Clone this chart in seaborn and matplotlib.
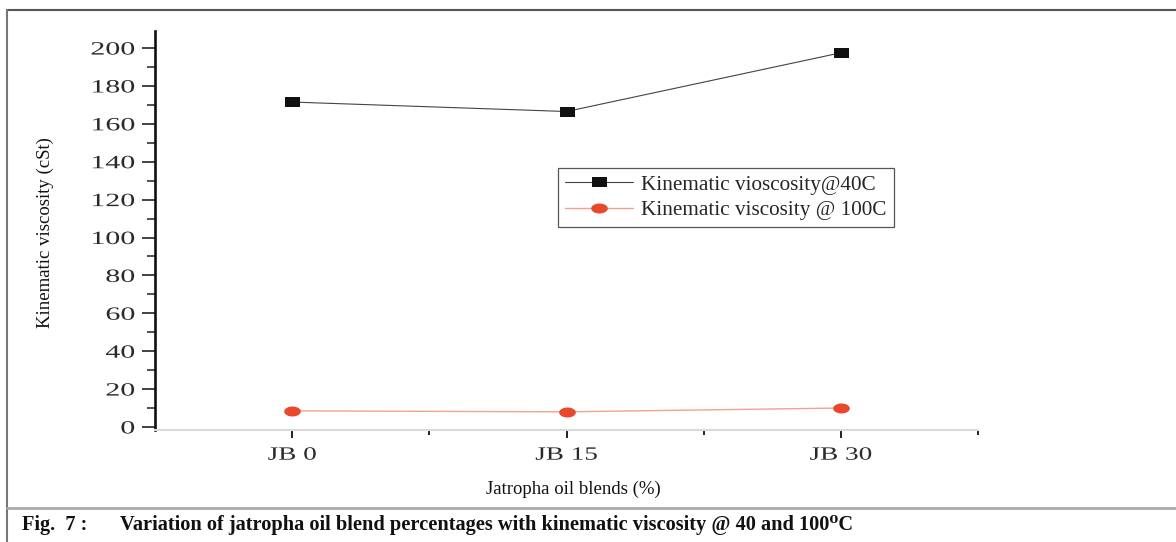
import numpy as np
import pandas as pd
import matplotlib
matplotlib.use("Agg")
import matplotlib.pyplot as plt
import seaborn as sns
from matplotlib.transforms import Affine2D
from matplotlib.patheffects import AbstractPathEffect
from matplotlib.ticker import MultipleLocator, FixedLocator, NullFormatter
from matplotlib.lines import Line2D

# ---------------- data ----------------
blends = ["JB 0", "JB 15", "JB 30"]
visc_40 = [171.5, 166.5, 197.5]
visc_100 = [8.5, 8.0, 10.0]
y_ticks = [0, 20, 40, 60, 80, 100, 120, 140, 160, 180, 200]
series_labels = ["Kinematic vioscosity@40C", "Kinematic viscosity @ 100C"]
x_label = "Jatropha oil blends (%)"
y_label = "Kinematic viscosity (cSt)"
caption_head = "Fig.  7 :"
caption_text = "Variation of jatropha oil blend percentages with kinematic viscosity @ 40 and 100\u2070C"

sns.set_theme(style="white")
plt.rcParams['font.family'] = ['Liberation Serif', 'DejaVu Serif']


class HStretch(AbstractPathEffect):
    """Stretch a text path horizontally about an anchor."""
    def __init__(self, sx=1.45, anchor='center'):
        super().__init__()
        self.sx = sx
        self.anchor = anchor

    def draw_path(self, renderer, gc, tpath, affine, rgbFace=None):
        ext = tpath.get_extents()
        if self.anchor == 'right':
            a = ext.x1
        elif self.anchor == 'left':
            a = ext.x0
        else:
            a = (ext.x0 + ext.x1) / 2
        t = Affine2D().translate(-a, 0).scale(self.sx, 1).translate(a, 0)
        renderer.draw_path(gc, tpath, t + affine, rgbFace)


W, H = 1176, 542
fig = plt.figure(figsize=(W / 100, H / 100), dpi=100)
fig.patch.set_facecolor("white")
ax = fig.add_axes([155 / W, 1 - 430 / H, (978 - 155) / W, (430 - 31) / H])
ax.set_facecolor("white")

rect_marker = [(-1.5, -1), (1.5, -1), (1.5, 1), (-1.5, 1), (-1.5, -1)]
th = np.linspace(0, 2 * np.pi, 40)
ell_marker = list(zip(np.cos(th), 0.6 * np.sin(th)))

df40 = pd.DataFrame({"blend": blends, "viscosity": visc_40})
df100 = pd.DataFrame({"blend": blends, "viscosity": visc_100})

sns.lineplot(data=df40, x="blend", y="viscosity", ax=ax, sort=False,
             color="#444444", linewidth=0.8, marker=rect_marker, markersize=10.8,
             markerfacecolor="#111111", markeredgecolor="#111111",
             markeredgewidth=0, label=series_labels[0])
sns.lineplot(data=df100, x="blend", y="viscosity", ax=ax, sort=False,
             color="#f2a090", linewidth=1.0, marker=ell_marker, markersize=12,
             markerfacecolor="#e8482c", markeredgecolor="#e8482c",
             markeredgewidth=0, label=series_labels[1])

# axes limits & ticks
ax.set_xlim(-0.5, 2.5)
ax.set_ylim(-1.6, 209)
ax.set_yticks(y_ticks)
ax.yaxis.set_minor_locator(MultipleLocator(10))
ax.set_xticks(range(len(blends)), blends)
ax.xaxis.set_minor_locator(FixedLocator([0.5, 1.5, 2.5]))
ax.xaxis.set_minor_formatter(NullFormatter())
ax.set_xlabel("")
ax.set_ylabel("")

ax.tick_params(axis='y', which='major', left=True, direction='out', length=9.5,
               width=1.2, color='#222222', labelsize=13.5, pad=5, labelcolor='#2a2a2a')
ax.tick_params(axis='y', which='minor', left=True, direction='out', length=5.5,
               width=1.1, color='#222222')
ax.tick_params(axis='x', which='major', bottom=True, direction='out', length=6,
               width=1.4, color='#222222', labelsize=13.5, pad=6, labelcolor='#2a2a2a')
ax.tick_params(axis='x', which='minor', bottom=True, direction='out', length=3.5,
               width=1.4, color='#222222')

for lbl in ax.get_yticklabels():
    lbl.set_path_effects([HStretch(1.6, 'right')])
for lbl in ax.get_xticklabels():
    lbl.set_path_effects([HStretch(1.45, 'center')])

for s in ["top", "right"]:
    ax.spines[s].set_visible(False)
ax.spines["left"].set_color("#111111")
ax.spines["left"].set_linewidth(1.9)
ax.spines["bottom"].set_color("#dadada")
ax.spines["bottom"].set_linewidth(1.5)

leg = ax.legend(loc="upper left", bbox_to_anchor=((558 - 155) / 823, (430 - 168) / 399),
                borderaxespad=0, frameon=True, fancybox=False, framealpha=1,
                edgecolor="#555555", prop={"family": "Liberation Serif", "size": 15.3},
                handlelength=3.2, handletextpad=0.4, labelspacing=0.28, borderpad=0.32)
leg.get_frame().set_linewidth(0.9)

# labels
fig.text(45 / W, 1 - 233 / H, y_label, rotation=90, ha='center', va='center',
         fontsize=13.5, color='#111111')
fig.text(573 / W, 1 - 489 / H, x_label, ha='center', va='center',
         fontsize=13.5, color='#111111')

# caption
fig.text(22 / W, 1 - 525 / H, caption_head, ha='left', va='center',
         fontsize=14.7, fontweight='bold', color='#111111')
fig.text(120 / W, 1 - 525 / H, caption_text, ha='left', va='center',
         fontsize=14.7, fontweight='bold', color='#111111')

# frame lines
fig.add_artist(Line2D([7 / W, 1], [1 - 10 / H, 1 - 10 / H], transform=fig.transFigure,
                      color='#555555', lw=1.5))
fig.add_artist(Line2D([7 / W, 7 / W], [0, 1 - 10 / H], transform=fig.transFigure,
                      color='#777777', lw=1.5))
fig.add_artist(Line2D([7 / W, 1], [1 - 508 / H, 1 - 508 / H], transform=fig.transFigure,
                      color='#aaaaaa', lw=2))

fig.savefig("out.png", dpi=100, facecolor="white")
